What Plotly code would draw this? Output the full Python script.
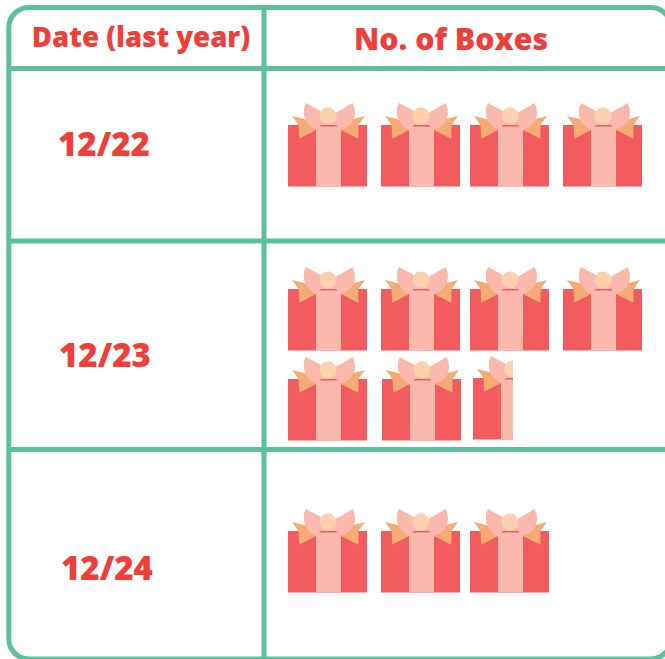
import plotly.graph_objects as go
import math

# ---- data ----
HEADERS = ["Date (last year)", "No. of Boxes"]
DATES = ["12/22", "12/23", "12/24"]
BOX_COUNTS = [4, 6.5, 3]

# ---- layout constants (pixel canvas) ----
W, H = 665, 659
GREEN = "#5DBF9B"
RED_TEXT = "#F03E38"
BOX = "#F25C5F"
RIBBON = "#FAB9AC"
TAIL = "#F5AB73"
KNOT = "#FDD0AE"
FONT = "Open Sans"
RULE = 5

ICON_W, ICON_H = 79, 61
ROW_SLOTS = [
    [(288, 125), (381, 125), (470, 125), (563, 125)],
    [(288, 289), (381, 289), (470, 289), (563, 289), (288, 379), (382, 379), (473, 378)],
    [(288, 531), (381, 531), (470, 531)],
]
DATE_POS = [(104, 148), (105, 359), (107, 572)]
HEADER_POS = [(141, 40), (451, 42)]
HEADER_SIZE = [27.6, 30.3]
DATE_SIZE = 33


def circle(cx, cy, r, n=40):
    return [(cx + r * math.cos(2 * math.pi * i / n), cy + r * math.sin(2 * math.pi * i / n)) for i in range(n)]


GLYPH = [
    (BOX, [(0, 0), (79, 0), (79, 61.5), (0, 61.5)]),
    (TAIL, [(4, -9), (20, -5), (28, 5), (11.3, 13.7), (10.5, 0)]),
    (TAIL, [(77, -9), (62, -5), (53, 5), (70.3, 13.7), (70.5, 0)]),
    (RIBBON, [(28, 1.5), (53, 1.5), (53, 61.5), (28, 61.5)]),
    (RIBBON, [(18, -22), (31, -15), (40.5, -8), (40.5, 0), (33, 0), (28, 5), (25, 3.5), (22, 1),
              (18.5, -3), (16.6, -7), (15.8, -12), (16.2, -18)]),
    (RIBBON, [(64.7, -22), (52, -15), (40.5, -8), (40.5, 0), (48, 0), (53, 5), (59, 2), (63.7, -1.7),
              (66, -6), (67, -12), (66.5, -17)]),
    (KNOT, circle(40, -9, 8.6)),
]


def clip_right(pts, xmax):
    out = []
    for i, (x0, y0) in enumerate(pts):
        x1, y1 = pts[(i + 1) % len(pts)]
        if x0 <= xmax:
            out.append((x0, y0))
        if (x0 <= xmax) != (x1 <= xmax):
            t = (xmax - x0) / (x1 - x0)
            out.append((xmax, y0 + t * (y1 - y0)))
    return out


fig = go.Figure()


def add_poly(pts, color):
    xs = [p[0] for p in pts] + [pts[0][0]]
    ys = [p[1] for p in pts] + [pts[0][1]]
    fig.add_trace(go.Scatter(x=xs, y=ys, mode="lines", fill="toself", fillcolor=color,
                             line=dict(width=0, color=color), hoverinfo="skip", showlegend=False))


for count, slots in zip(BOX_COUNTS, ROW_SLOTS):
    whole = int(count)
    frac = count - whole
    for i in range(math.ceil(count)):
        ox, oy = slots[i]
        limit = ICON_W if i < whole else ICON_W * frac + 0.5
        for color, pts in GLYPH:
            clipped = clip_right(pts, limit)
            if len(clipped) >= 3:
                add_poly([(ox + x, oy + y) for x, y in clipped], color)

for text, (x, y), size in zip(HEADERS, HEADER_POS, HEADER_SIZE):
    fig.add_trace(go.Scatter(x=[x], y=[y], mode="text", text=[text],
                             textfont=dict(family=FONT, size=size, color=RED_TEXT, weight=800),
                             textposition="middle center", hoverinfo="skip", showlegend=False))
for text, (x, y) in zip(DATES, DATE_POS):
    fig.add_trace(go.Scatter(x=[x], y=[y], mode="text", text=[text],
                             textfont=dict(family=FONT, size=DATE_SIZE, color=RED_TEXT, weight=800),
                             textposition="middle center", hoverinfo="skip", showlegend=False))

grid = dict(type="line", line=dict(color=GREEN, width=RULE), xref="x", yref="y", layer="above")
L, T, R, B, K = 8.8, 7.5, 671, 659, 20
C = K * 0.45
shapes = [
    dict(grid, x0=L, x1=R, y0=68.5, y1=68.5),
    dict(grid, x0=L, x1=R, y0=241, y1=241),
    dict(grid, x0=L, x1=R, y0=449.5, y1=449.5),
    dict(grid, x0=264, x1=264, y0=T, y1=B),
    dict(type="path", xref="x", yref="y", layer="above", line=dict(color=GREEN, width=RULE),
         path=(f"M {L+K} {T} L {R-K} {T} C {R-C} {T} {R} {T+C} {R} {T+K} L {R} {B-K} "
               f"C {R} {B-C} {R-C} {B} {R-K} {B} L {L+K} {B} C {L+C} {B} {L} {B-C} {L} {B-K} "
               f"L {L} {T+K} C {L} {T+C} {L+C} {T} {L+K} {T} Z")),
]

fig.update_layout(
    width=W, height=H, margin=dict(l=0, r=0, t=0, b=0, pad=0),
    paper_bgcolor="white", plot_bgcolor="white", showlegend=False, shapes=shapes,
    xaxis=dict(range=[0, W], visible=False, fixedrange=True),
    yaxis=dict(range=[H, 0], visible=False, fixedrange=True),
)
fig.write_html("out.html", config=dict(displayModeBar=False),
               post_script="document.body.style.margin='0';document.documentElement.style.overflow='hidden';")
